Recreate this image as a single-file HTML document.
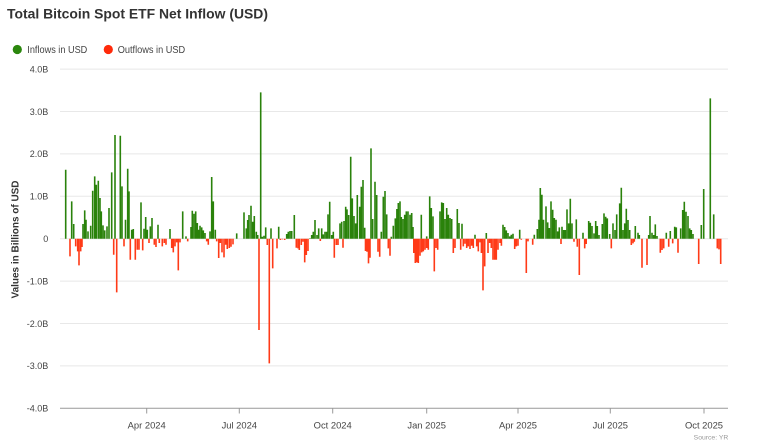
<!DOCTYPE html>
<html><head><meta charset="utf-8"><style>
html,body{margin:0;padding:0;background:#fff;}
svg{display:block;font-family:"Liberation Sans",Arial,sans-serif;}
</style></head><body>
<svg width="768" height="444" viewBox="0 0 768 444" xmlns="http://www.w3.org/2000/svg">
<rect width="768" height="444" fill="#fff"/>
<text x="7" y="18.5" font-size="13.5" font-weight="bold" fill="#333" textLength="261" lengthAdjust="spacingAndGlyphs">Total Bitcoin Spot ETF Net Inflow (USD)</text>
<circle cx="17.3" cy="49.5" r="4.6" fill="#2b870d"/>
<text x="27.3" y="53.2" font-size="10.3" fill="#444" textLength="60" lengthAdjust="spacingAndGlyphs">Inflows in USD</text>
<circle cx="108.3" cy="49.5" r="4.6" fill="#ff2a0a"/>
<text x="117.7" y="53.2" font-size="10.3" fill="#444" textLength="67.5" lengthAdjust="spacingAndGlyphs">Outflows in USD</text>
<g stroke="#e8e8e8" stroke-width="1">
<line x1="60" x2="728" y1="69.1" y2="69.1"/>
<line x1="60" x2="728" y1="111.5" y2="111.5"/>
<line x1="60" x2="728" y1="153.9" y2="153.9"/>
<line x1="60" x2="728" y1="196.3" y2="196.3"/>
<line x1="60" x2="728" y1="238.7" y2="238.7"/>
<line x1="60" x2="728" y1="281.1" y2="281.1"/>
<line x1="60" x2="728" y1="323.5" y2="323.5"/>
<line x1="60" x2="728" y1="365.9" y2="365.9"/>
</g>
<g font-size="9" fill="#444" text-anchor="end">
<text x="48.3" y="72.4">4.0B</text>
<text x="48.3" y="114.8">3.0B</text>
<text x="48.3" y="157.2">2.0B</text>
<text x="48.3" y="199.6">1.0B</text>
<text x="48.3" y="242">0</text>
<text x="48.3" y="284.4">-1.0B</text>
<text x="48.3" y="326.8">-2.0B</text>
<text x="48.3" y="369.2">-3.0B</text>
<text x="48.3" y="411.6">-4.0B</text>
</g>
<text transform="translate(18.5,239.5) rotate(-90)" text-anchor="middle" font-size="10" font-weight="bold" fill="#333" textLength="118" lengthAdjust="spacingAndGlyphs">Values in Billions of USD</text>
<path fill="none" stroke="#2a820b" stroke-width="1.6" d="M65.7 238.7v-69M71.7 238.7v-37.3M73.7 238.7v-14.7M83 238.7v-14.7M84.7 238.7v-28.3M86 238.7v-19M88 238.7v-7.3M90.7 238.7v-13M92.7 238.7v-48M94.7 238.7v-62.3M96.3 238.7v-54M98.3 238.7v-58M100 238.7v-40.7M101.3 238.7v-27.3M103 238.7v-13.3M104.7 238.7v-8.3M107 238.7v-12.3M109 238.7v-30.7M111.7 238.7v-66.3M115 238.7v-103.7M120.3 238.7v-103M122 238.7v-52.3M125.5 238.7v-19M127.7 238.7v-70M129 238.7v-47.3M131.7 238.7v-9M133.3 238.7v-9.7M141 238.7v-36.3M144 238.7v-10M145.7 238.7v-21.7M147.3 238.7v-9M150.3 238.7v-12.3M152 238.7v-20.7M158 238.7v-14M170 238.7v-9.7M182.7 238.7v-27.3M186 238.7v-2.3M191 238.7v-11.7M192.3 238.7v-28M194 238.7v-25M195.7 238.7v-27.3M197.3 238.7v-15.7M198.7 238.7v-9M200 238.7v-13M201.7 238.7v-11.3M203.3 238.7v-8.3M205 238.7v-5.7M210 238.7v-7.3M211.7 238.7v-61.7M213.3 238.7v-37.3M215.3 238.7v-9M236.7 238.7v-5.3M244 238.7v-26.3M246.3 238.7v-10.3M247.7 238.7v-18.7M249 238.7v-23.7M251 238.7v-33M252.7 238.7v-17M254.3 238.7v-22.7M256.3 238.7v-7M257.7 238.7v-3.7M260.7 238.7v-146.3M262.3 238.7v-2M264 238.7v-3M265.7 238.7v-11.3M271 238.7v-10.3M278.7 238.7v-12M286.7 238.7v-4.7M288.3 238.7v-7M290 238.7v-7.7M291.7 238.7v-7.7M294.3 238.7v-23.7M310 238.7v-0.5M311.7 238.7v-3.7M313.3 238.7v-7M315 238.7v-18.7M317 238.7v-3.7M318.7 238.7v-10.3M321.7 238.7v-10.3M323.3 238.7v-4.3M325 238.7v-7M326.7 238.7v-7M328 238.7v-24.3M329.7 238.7v-37M331.7 238.7v-3.7M333.3 238.7v-7M340 238.7v-15.3M341.7 238.7v-17M344 238.7v-17.7M345.7 238.7v-32M347 238.7v-29.3M348.7 238.7v-23.7M350.7 238.7v-82M352.3 238.7v-40.3M354 238.7v-22.7M355.7 238.7v-15.3M357.3 238.7v-43.7M359.7 238.7v-32M361.3 238.7v-52M363 238.7v-58.7M364.7 238.7v-11M371 238.7v-90.3M372.7 238.7v-19.7M375 238.7v-57M376.7 238.7v-43.7M381.3 238.7v-7M383.3 238.7v-42M385 238.7v-47.7M386.7 238.7v-24.3M391.3 238.7v-2M393.3 238.7v-13M395.3 238.7v-20.3M396.9 238.7v-29.7M398.3 238.7v-35.7M400 238.7v-37.3M401.3 238.7v-21.7M403 238.7v-19.7M404.7 238.7v-24M406.3 238.7v-27.3M408 238.7v-27.3M410 238.7v-24M411.7 238.7v-25.7M413 238.7v-11.7M421.3 238.7v-24M426.7 238.7v-2.3M429.7 238.7v-42.3M431.3 238.7v-30.7M433 238.7v-22.3M440 238.7v-27.3M441.7 238.7v-36.3M443.3 238.7v-35.7M445 238.7v-19.7M446.7 238.7v-30.7M448.3 238.7v-24M450 238.7v-20.7M451.7 238.7v-19.7M457.3 238.7v-29.7M459 238.7v-15.7M462 238.7v-15M475 238.7v-4M486.3 238.7v-5.7M503 238.7v-14M504.7 238.7v-11.7M506.3 238.7v-8.3M508 238.7v-5.7M509.7 238.7v-2.3M511.3 238.7v-4M513 238.7v-5M519.7 238.7v-9M534.3 238.7v-4M537.3 238.7v-9.7M539 238.7v-19M540.3 238.7v-50.7M541.9 238.7v-44M543.5 238.7v-19M546 238.7v-32.3M547.7 238.7v-16.3M549.3 238.7v-10.7M551 238.7v-37.3M552.7 238.7v-29M554.3 238.7v-20.7M556 238.7v-19M557.7 238.7v-7.3M559.3 238.7v-11.3M562 238.7v-12M563.7 238.7v-8.7M565.3 238.7v-8.7M567 238.7v-29.3M568.7 238.7v-15.3M570.3 238.7v-40M572 238.7v-15.3M576.3 238.7v-19.3M583 238.7v-6M588.7 238.7v-17.7M590.3 238.7v-16M592 238.7v-12.7M594 238.7v-5.3M595.7 238.7v-17.7M597.3 238.7v-12.7M599 238.7v-3.7M602.3 238.7v-14.7M604 238.7v-25.3M605.7 238.7v-22M607.3 238.7v-20.3M609.7 238.7v-4.7M613 238.7v-15.3M615 238.7v-8.7M616.7 238.7v-24.3M619.7 238.7v-35.3M621.3 238.7v-51M623 238.7v-8.7M624.7 238.7v-15.3M626.3 238.7v-30M628 238.7v-18.7M629.7 238.7v-8.7M635.3 238.7v-12.7M638 238.7v-6M639.3 238.7v-3.7M648.7 238.7v-3.7M650 238.7v-22.7M652 238.7v-6M653.7 238.7v-3.7M655.3 238.7v-14.3M657 238.7v-2.7M666.3 238.7v-6M670.3 238.7v-7.7M674.7 238.7v-12M676.3 238.7v-11.3M680.7 238.7v-10.3M682.7 238.7v-28.7M684.3 238.7v-37M686 238.7v-27M688 238.7v-22.7M689.7 238.7v-10.3M691.3 238.7v-8.7M693 238.7v-4.7M701.3 238.7v-13.7M703.7 238.7v-49.7M710.3 238.7v-140.3M713.7 238.7v-24.3"/>
<path fill="none" stroke="#ff3a17" stroke-width="1.6" d="M70 238.7v17.7M75.7 238.7v7.7M77.7 238.7v12.7M79 238.7v26.7M80.7 238.7v12.7M82 238.7v8.3M113.7 238.7v16M116.7 238.7v53.7M124 238.7v7.7M130.3 238.7v21M135.3 238.7v21M137.3 238.7v11M139 238.7v11M142.7 238.7v11.7M149 238.7v4.3M154.3 238.7v6M156 238.7v8.3M159.3 238.7v4.3M162.3 238.7v7.7M164.3 238.7v4.3M166 238.7v6M171.7 238.7v9.3M173.3 238.7v13.7M175 238.7v7.7M176.7 238.7v3.7M178.3 238.7v31.7M180 238.7v3.7M187.7 238.7v2.7M206.7 238.7v2.7M208.3 238.7v6M216.7 238.7v2.7M218.7 238.7v19.3M220.3 238.7v4.3M222 238.7v13.7M224 238.7v18.7M225.7 238.7v6M227.3 238.7v10.3M229.3 238.7v9.3M231 238.7v8M233 238.7v5.7M259 238.7v91.3M267.3 238.7v6.3M269.3 238.7v124.7M272.7 238.7v29.7M277 238.7v9.7M280.3 238.7v1.3M282.3 238.7v0.7M284.7 238.7v1.3M296.3 238.7v9M298 238.7v9.7M299.3 238.7v11.3M301.3 238.7v6.3M303 238.7v3M304.7 238.7v23.7M306.3 238.7v16.3M308 238.7v12.3M320.3 238.7v2.3M334.3 238.7v19M336.3 238.7v6.3M338 238.7v6.3M343 238.7v9M365.5 238.7v12.3M367 238.7v13M368.5 238.7v24.7M370 238.7v19M378 238.7v13M379.7 238.7v18M388.3 238.7v9.7M390 238.7v17M413.8 238.7v14.3M415.3 238.7v24.3M416.8 238.7v23.7M418.3 238.7v24.3M420 238.7v17M421.7 238.7v13.7M423.3 238.7v12.7M425 238.7v11M426.7 238.7v9.3M428.3 238.7v11M434.3 238.7v32.7M436 238.7v9.3M437.7 238.7v11M453.3 238.7v14.3M455 238.7v9.3M460.7 238.7v11M463.3 238.7v7.7M465 238.7v5M466.7 238.7v9.3M468.3 238.7v7.7M470 238.7v10.3M471.7 238.7v7M473.3 238.7v9.3M476.7 238.7v7.7M478.3 238.7v12.7M480 238.7v3.7M481.4 238.7v14.3M483 238.7v51.7M484.7 238.7v27.7M488 238.7v14.3M489.7 238.7v4.3M491.3 238.7v9.3M493 238.7v21M494.7 238.7v21M496.3 238.7v21M498 238.7v11M500 238.7v4.3M501.4 238.7v7M514.7 238.7v10.3M516.3 238.7v7.7M518 238.7v7M521.3 238.7v1M526.3 238.7v34.3M528 238.7v2.7M532.7 238.7v6M561 238.7v5.3M574 238.7v3M577.3 238.7v8M579.3 238.7v36.3M584.7 238.7v9.7M586.2 238.7v5.3M611.3 238.7v9.7M631.3 238.7v6.3M633 238.7v4.7M634.3 238.7v3M642 238.7v29M647 238.7v26.3M660.3 238.7v14M662 238.7v11.3M663.7 238.7v9.7M668.7 238.7v8M672.7 238.7v4.7M678 238.7v14M698.7 238.7v25.3M717.3 238.7v9.7M719 238.7v10.7M720.7 238.7v25.3"/>
<line x1="60" x2="728" y1="408.3" y2="408.3" stroke="#999" stroke-width="1"/>
<g stroke="#999" stroke-width="1">
<line x1="146.7" x2="146.7" y1="408.3" y2="413.5"/>
<line x1="239.3" x2="239.3" y1="408.3" y2="413.5"/>
<line x1="332.7" x2="332.7" y1="408.3" y2="413.5"/>
<line x1="426.7" x2="426.7" y1="408.3" y2="413.5"/>
<line x1="518" x2="518" y1="408.3" y2="413.5"/>
<line x1="610.3" x2="610.3" y1="408.3" y2="413.5"/>
<line x1="704" x2="704" y1="408.3" y2="413.5"/>
</g>
<g font-size="9.4" fill="#444" text-anchor="middle">
<text x="146.7" y="428.6">Apr 2024</text>
<text x="239.3" y="428.6">Jul 2024</text>
<text x="332.7" y="428.6">Oct 2024</text>
<text x="426.7" y="428.6">Jan 2025</text>
<text x="518" y="428.6">Apr 2025</text>
<text x="610.3" y="428.6">Jul 2025</text>
<text x="704" y="428.6">Oct 2025</text>
</g>
<text x="728.3" y="439.3" font-size="6.8" fill="#999" text-anchor="end">Source: YR</text>
</svg>
</body></html>
